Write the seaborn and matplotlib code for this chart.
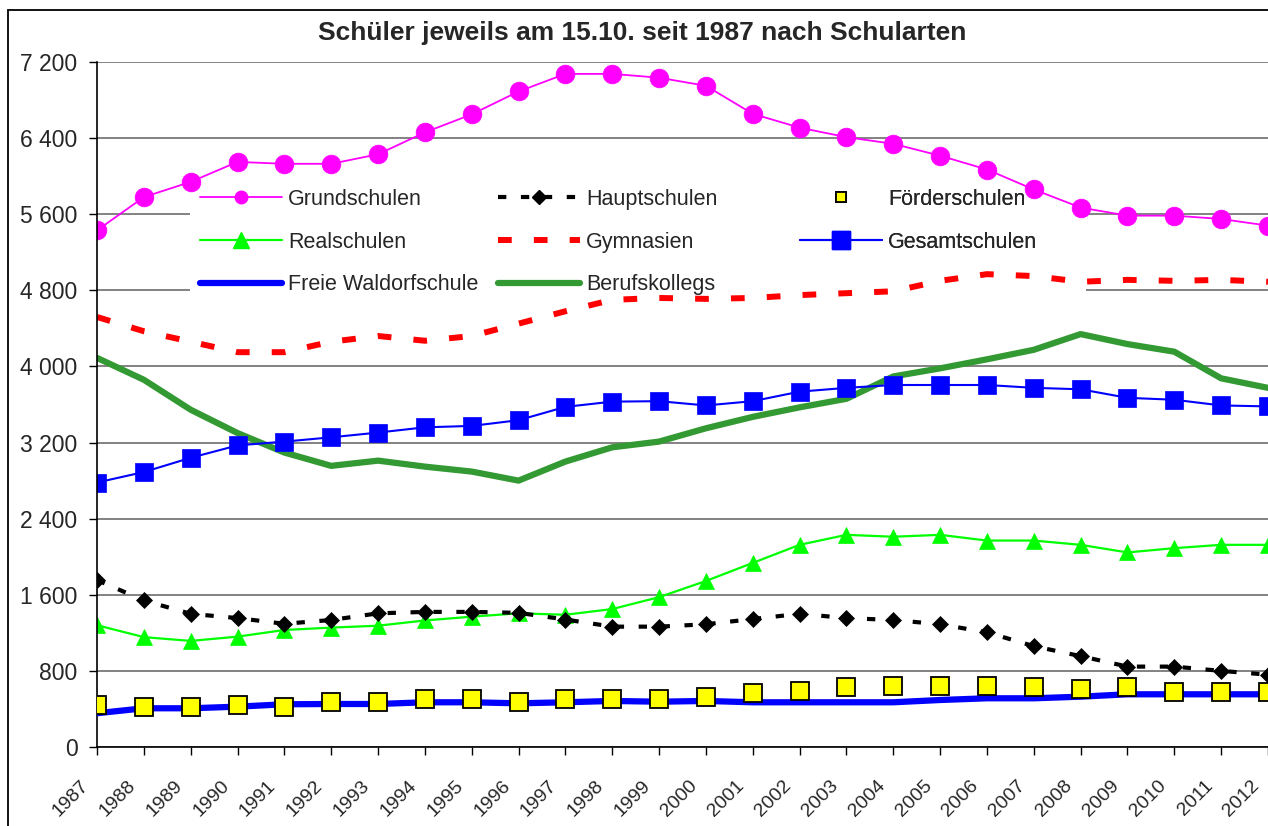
import numpy as np
import pandas as pd
import matplotlib
matplotlib.use("Agg")
import matplotlib.pyplot as plt
import seaborn as sns
from matplotlib.lines import Line2D
from matplotlib.patches import Rectangle
from matplotlib.transforms import ScaledTranslation

# ---------------- data ----------------
jahre = list(range(1987, 2013))
grundschulen = [5430, 5780, 5940, 6150, 6130, 6130, 6230, 6460, 6650, 6890, 7075, 7075, 7035,
                6950, 6655, 6510, 6410, 6340, 6215, 6070, 5860, 5670, 5585, 5585, 5550, 5480]
hauptschulen = [1755, 1540, 1400, 1355, 1295, 1335, 1405, 1420, 1420, 1410, 1340, 1265, 1265,
                1290, 1345, 1400, 1355, 1335, 1290, 1205, 1060, 955, 845, 845, 800, 760]
foerderschulen = [440, 417, 417, 440, 417, 476, 476, 505, 505, 476, 502, 505, 501,
                  529, 564, 589, 627, 645, 645, 645, 627, 606, 627, 581, 581, 581]
realschulen = [1280, 1155, 1115, 1160, 1230, 1255, 1275, 1330, 1370, 1405, 1390, 1450, 1575,
               1745, 1935, 2125, 2230, 2210, 2230, 2170, 2170, 2125, 2045, 2090, 2125, 2125]
gymnasien = [4520, 4370, 4260, 4150, 4150, 4260, 4320, 4270, 4320, 4450, 4580, 4700, 4720,
             4710, 4720, 4750, 4770, 4790, 4900, 4970, 4950, 4890, 4910, 4900, 4910, 4890]
gesamtschulen = [2780, 2890, 3040, 3170, 3210, 3255, 3305, 3360, 3375, 3435, 3575, 3630, 3635,
                 3590, 3635, 3735, 3775, 3805, 3805, 3805, 3775, 3760, 3670, 3650, 3590, 3580]
waldorf = [355, 407, 407, 424, 449, 452, 452, 470, 470, 459, 470, 484, 476,
           484, 470, 470, 470, 470, 494, 512, 512, 529, 554, 554, 554, 554]
berufskollegs = [4090, 3860, 3545, 3300, 3095, 2955, 3010, 2947, 2895, 2800, 3000, 3150, 3210,
                 3350, 3470, 3570, 3660, 3895, 3980, 4075, 4175, 4340, 4235, 4155, 3875, 3775]

namen = ["Grundschulen", "Hauptschulen", "Förderschulen", "Realschulen", "Gymnasien",
         "Gesamtschulen", "Freie Waldorfschule", "Berufskollegs"]
werte = [grundschulen, hauptschulen, foerderschulen, realschulen, gymnasien,
         gesamtschulen, waldorf, berufskollegs]

df = pd.DataFrame({
    "Jahr": np.tile(jahre, len(namen)),
    "Schüler": np.concatenate(werte),
    "Schulart": np.repeat(namen, len(jahre)),
})

titel = "Schüler jeweils am 15.10. seit 1987 nach Schularten"
y_ticks = list(range(0, 7201, 800))

# ---------------- style ----------------
sns.set_style("white")
plt.rcParams["font.family"] = ["Liberation Sans", "DejaVu Sans"]

W, H = 1268, 826
fig = plt.figure(figsize=(W / 100, H / 100), dpi=100)
ax = fig.add_axes([97 / W, 1 - 747 / H, 1 - 97 / W, (747 - 62) / H])

MAG = "#FF00FF"
LGREEN = "#00FF00"
BLUE = "#0000FF"
DGREEN = "#339933"
RED = "#FF0000"
YEL = "#FFFF00"


def draw(name, z, **kw):
    d = df[df["Schulart"] == name]
    sns.lineplot(data=d, x="Jahr", y="Schüler", ax=ax, legend=False, zorder=z, **kw)


draw("Gymnasien", 2.0, color=RED, lw=4.3, linestyle=(0, (2.3, 3.7)))
draw("Berufskollegs", 2.1, color=DGREEN, lw=4.5)
draw("Gesamtschulen", 2.2, color=BLUE, lw=1.5, marker="s", markersize=13,
     markeredgecolor=BLUE, markeredgewidth=0.5)
draw("Grundschulen", 2.3, color=MAG, lw=1.3, marker="o", markersize=13.5,
     markeredgecolor=MAG, markeredgewidth=0.5)
draw("Realschulen", 2.4, color=LGREEN, lw=1.6, marker="^", markersize=12,
     markeredgecolor=LGREEN, markeredgewidth=0.5)
draw("Hauptschulen", 2.5, color="black", lw=3, linestyle=(0, (2, 3.5)), marker="D",
     markersize=8, markeredgecolor="black", markeredgewidth=0.5)
draw("Freie Waldorfschule", 2.6, color=BLUE, lw=4.5)
draw("Förderschulen", 2.7, color=YEL, linestyle="None", marker="s", markersize=13,
     markerfacecolor=YEL, markeredgecolor="black", markeredgewidth=1.3)

# ---------------- axes ----------------
ax.set_xlim(1987, 2012)
ax.set_ylim(0, 7200)
ax.set_xticks(jahre)
ax.set_xticklabels([str(j) for j in jahre], rotation=45, ha="right", va="center",
                   rotation_mode="anchor", fontsize=14)
ax.set_yticks(y_ticks)
ax.set_yticklabels([f"{v:,}".replace(",", " ") for v in y_ticks], fontsize=16.5)
ax.set_xlabel("")
ax.set_ylabel("")
ax.tick_params(axis="both", direction="out", length=6, width=1, color="black",
               bottom=True, left=True)
ax.tick_params(axis="x", pad=20)
ax.tick_params(axis="y", pad=8)
off = ScaledTranslation(-0.11, 0, fig.dpi_scale_trans)
for lab in ax.get_xticklabels():
    lab.set_transform(lab.get_transform() + off)

ax.yaxis.grid(True, color="#606060", lw=1.1)
ax.xaxis.grid(False)
ax.set_axisbelow(True)
for s in ["top", "right"]:
    ax.spines[s].set_visible(False)
for s in ["left", "bottom"]:
    ax.spines[s].set_color("black")
    ax.spines[s].set_linewidth(1.2)

# ---------------- legend ----------------
ax.add_patch(Rectangle((190 / W, 1 - 302 / H), (1086 - 190) / W, (302 - 172) / H,
                       transform=fig.transFigure, facecolor="white", edgecolor="none",
                       zorder=1.5))

h = {
    "Grundschulen": Line2D([], [], color=MAG, lw=1.3, marker="o", ms=9, mec=MAG),
    "Hauptschulen": Line2D([], [], color="black", lw=3, ls=(0, (2, 3.5)), marker="D", ms=7, mec="black"),
    "Förderschulen": Line2D([], [], color=YEL, ls="None", marker="s", ms=6.5, mfc=YEL, mec="black", mew=1.3),
    "Realschulen": Line2D([], [], color=LGREEN, lw=1.6, marker="^", ms=11, mec=LGREEN),
    "Gymnasien": Line2D([], [], color=RED, lw=4.3, ls=(0, (2.3, 3.7))),
    "Gesamtschulen": Line2D([], [], color=BLUE, lw=1.5, marker="s", ms=13, mec=BLUE),
    "Freie Waldorfschule": Line2D([], [], color=BLUE, lw=4.5),
    "Berufskollegs": Line2D([], [], color=DGREEN, lw=4.5),
}
spalten = [
    (200, ["Grundschulen", "Realschulen", "Freie Waldorfschule"]),
    (498, ["Hauptschulen", "Gymnasien", "Berufskollegs"]),
    (800, ["Förderschulen", "Gesamtschulen"]),
]
for xpx, names in spalten:
    leg = ax.legend([h[n] for n in names], names, loc="upper left",
                    bbox_to_anchor=(xpx / W, 1 - 189 / H), bbox_transform=fig.transFigure,
                    frameon=False, fontsize=15.5, handlelength=3.8, handletextpad=0.28,
                    labelspacing=1.0, borderpad=0, borderaxespad=0)
    leg.set_zorder(5)
    ax.add_artist(leg)

# ---------------- title & border ----------------
fig.text(642 / W, 1 - 33 / H, titel, ha="center", va="center", fontsize=19,
         fontweight="bold")
fig.add_artist(Rectangle((8 / W, -0.02), 1.0, 1 - 10 / H + 0.02, transform=fig.transFigure,
                         fill=False, edgecolor="black", lw=1.3))

fig.savefig("out.png", dpi=100)
